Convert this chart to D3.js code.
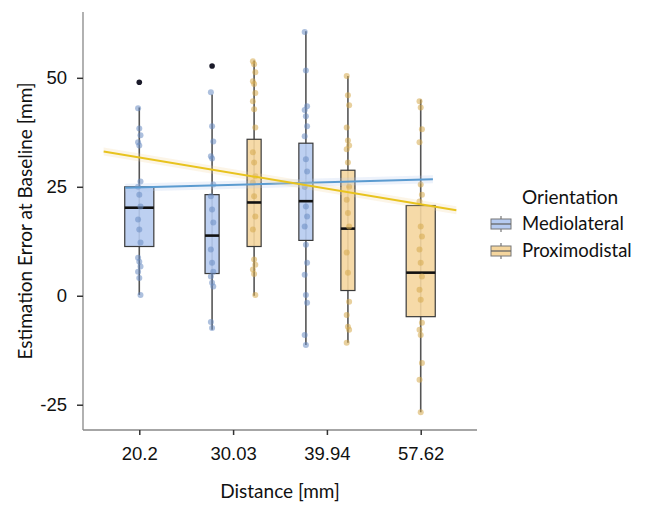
<!DOCTYPE html>
<html>
<head>
<meta charset="utf-8">
<script src="https://cdn.jsdelivr.net/npm/d3@7/dist/d3.min.js"></script>
<style>
  body { margin: 0; background: #fff; }
  .tick text { font-family: "Liberation Sans", Arial, sans-serif; font-size: 18.5px; fill: #111; }
  .axisTitle, .legendText { font-family: Lato, "Open Sans", sans-serif; fill: #111; }
</style>
</head>
<body>
<div id="chart"></div>
<script>
// categories and groups
var distances = ["20.2", "30.03", "39.94", "57.62"];
var orientations = ["Mediolateral", "Proximodistal"];

var groupDistance = ["20.2", "30.03", "30.03", "39.94", "39.94", "57.62"];
var groupOrientation = ["Mediolateral", "Mediolateral", "Proximodistal", "Mediolateral", "Proximodistal", "Proximodistal"];

// box statistics
var q1 = [11.3, 5.1, 11.3, 12.7, 1.2, -4.8];
var median = [20.2, 13.8, 21.4, 21.7, 15.4, 5.3];
var q3 = [25, 23.2, 35.9, 35, 28.8, 20.7];
var whiskerLow = [0.2, -7.8, 0, -11.3, -10.8, -26.7];
var whiskerHigh = [43.2, 46.2, 54, 60.7, 50.4, 45];
var outliers = [[49], [52.7], [], [], [], []];

// raw observations (jittered points)
var points = [
  [43, 38.4, 36.8, 35.2, 34.5, 26.2, 25, 23.2, 20.5, 17.5, 15.2, 12.2, 8.7, 7.8, 6.7, 5.5, 4.1, 0.2],
  [46.7, 38.9, 35.4, 32, 31.5, 25.5, 22.8, 19.8, 16.8, 10.6, 7.6, 5.5, 4.4, 3, 2.1, -6, -7.4],
  [53.8, 53.1, 51.3, 49.2, 48.6, 46.5, 44.6, 42.8, 38.6, 32.9, 30.6, 27.4, 26, 22.8, 18.2, 15.2, 8.3, 7.1, 6, 5, 0.2],
  [60.5, 51.7, 43.5, 42.6, 41.2, 38.9, 36.6, 31.3, 28.5, 25, 20.5, 18.2, 15.9, 11.7, 7.6, 4.8, 0.2, -1.6, -9, -11.3],
  [50.4, 46, 43.7, 38.6, 35.6, 34.5, 33.6, 30.6, 25, 22, 19, 15.9, 9.9, 5.3, -1.4, -4.4, -7.1, -7.8, -10.8],
  [44.6, 43.2, 38.2, 35.2, 25.5, 23.2, 21.6, 15.9, 13.6, 10.6, 7.6, 4.4, 1.4, -0.9, -6.2, -7.8, -9, -15.4, -19.3, -26.7]
];

// linear trend per orientation (position along category index, value)
var trendPos = { "Mediolateral": [-0.15, 3.13], "Proximodistal": [-0.38, 3.38] };
var trendVal = { "Mediolateral": [24.8, 26.7], "Proximodistal": [33.1, 19.6] };

var yTicks = [-25, 0, 25, 50];

var fillColor = { "Mediolateral": "#b6cbf0", "Proximodistal": "#f5d69e" };
var pointColor = { "Mediolateral": "#6a8cc2", "Proximodistal": "#d6a94c" };
var lineColor = { "Mediolateral": "#5b9bd0", "Proximodistal": "#e8c31e" };

var svgWidth = 648, svgHeight = 505;
var plot = { left: 83, right: 477, top: 12, bottom: 430 };

var svg = d3.select("#chart").append("svg")
  .attr("width", svgWidth)
  .attr("height", svgHeight);

var x = d3.scalePoint().domain(distances).range([plot.left, plot.right]).padding(0.6);
var step = x.step();
var xPos = d3.scaleLinear().domain([0, distances.length - 1])
  .range([x(distances[0]), x(distances[distances.length - 1])]);
var y = d3.scaleLinear().domain([-30.8, 65.1]).range([plot.bottom, plot.top]);

// dodge: shared categories get two narrow boxes, single ones stay centred
function slot(i) {
  var d = groupDistance[i];
  var n = groupDistance.filter(function(g) { return g === d; }).length;
  if (n === 1) return { dx: 0, w: step * 0.31 };
  var k = groupDistance.slice(0, i).filter(function(g) { return g === d; }).length;
  return { dx: (k === 0 ? -1 : 1) * step * 0.224, w: step * 0.15 };
}

var groups = groupDistance.map(function(d, i) {
  var s = slot(i);
  return { i: i, cx: x(d) + s.dx, w: s.w, o: groupOrientation[i] };
});

// axes
var xAxis = svg.append("g")
  .attr("transform", "translate(0," + plot.bottom + ")")
  .call(d3.axisBottom(x).tickSize(5).tickPadding(12));
xAxis.select(".domain").attr("d", "M" + plot.left + ",0H" + plot.right).attr("stroke", "#888").attr("stroke-width", 1.3);
xAxis.selectAll(".tick line").attr("stroke", "#333").attr("stroke-width", 1.5);

var yAxis = svg.append("g")
  .attr("transform", "translate(" + plot.left + ",0)")
  .call(d3.axisLeft(y).tickValues(yTicks).tickSize(6).tickPadding(10)
    .tickFormat(function(d) { return String(d); }));
yAxis.select(".domain").attr("d", "M0," + plot.top + "V" + plot.bottom).attr("stroke", "#888").attr("stroke-width", 1.3);
yAxis.selectAll(".tick line").attr("stroke", "#333").attr("stroke-width", 1.5);

// whiskers
var boxG = svg.append("g");
boxG.selectAll(".whisker").data(groups).enter().append("line")
  .attr("x1", function(g) { return g.cx; })
  .attr("x2", function(g) { return g.cx; })
  .attr("y1", function(g) { return y(whiskerLow[g.i]); })
  .attr("y2", function(g) { return y(whiskerHigh[g.i]); })
  .attr("stroke", "#555")
  .attr("stroke-width", 1.6);

// boxes
boxG.selectAll(".box").data(groups).enter().append("rect")
  .attr("x", function(g) { return g.cx - g.w / 2; })
  .attr("width", function(g) { return g.w; })
  .attr("y", function(g) { return y(q3[g.i]); })
  .attr("height", function(g) { return y(q1[g.i]) - y(q3[g.i]); })
  .attr("fill", function(g) { return fillColor[g.o]; })
  .attr("fill-opacity", 0.9)
  .attr("stroke", "#3a3a3a")
  .attr("stroke-width", 1.2);

boxG.selectAll(".median").data(groups).enter().append("line")
  .attr("x1", function(g) { return g.cx - g.w / 2; })
  .attr("x2", function(g) { return g.cx + g.w / 2; })
  .attr("y1", function(g) { return y(median[g.i]); })
  .attr("y2", function(g) { return y(median[g.i]); })
  .attr("stroke", "#111")
  .attr("stroke-width", 2.6);

// outliers
var outData = [];
groups.forEach(function(g) {
  outliers[g.i].forEach(function(v) { outData.push({ cx: g.cx, v: v }); });
});
boxG.selectAll(".outlier").data(outData).enter().append("circle")
  .attr("cx", function(d) { return d.cx; })
  .attr("cy", function(d) { return y(d.v); })
  .attr("r", 2.8)
  .attr("fill", "#1a1a2a");

// jittered points
var ptData = [];
groups.forEach(function(g) {
  points[g.i].forEach(function(v, j) {
    ptData.push({ cx: g.cx + ((j % 3) - 1) * 1.2, v: v, o: g.o });
  });
});
svg.append("g").selectAll("circle").data(ptData).enter().append("circle")
  .attr("cx", function(d) { return d.cx; })
  .attr("cy", function(d) { return y(d.v); })
  .attr("r", 3)
  .attr("fill", function(d) { return pointColor[d.o]; })
  .attr("opacity", 0.55);

// trend lines with faint ribbon
orientations.forEach(function(o) {
  var pts = trendPos[o].map(function(p, k) { return [xPos(p), y(trendVal[o][k])]; });
  svg.append("path")
    .datum(pts)
    .attr("d", d3.area().x(function(d) { return d[0]; })
      .y0(function(d) { return d[1] - 4; }).y1(function(d) { return d[1] + 4; }))
    .attr("fill", fillColor[o])
    .attr("opacity", 0.25);
  svg.append("path")
    .datum(pts)
    .attr("d", d3.line())
    .attr("stroke", lineColor[o])
    .attr("stroke-width", 2)
    .attr("fill", "none");
});

// axis titles
svg.append("text")
  .attr("class", "axisTitle")
  .attr("x", (plot.left + plot.right) / 2)
  .attr("y", 498)
  .attr("text-anchor", "middle")
  .style("font-size", "19px")
  .text("Distance [mm]");

svg.append("text")
  .attr("class", "axisTitle")
  .attr("transform", "translate(32," + (plot.top + plot.bottom) / 2 + ") rotate(-90)")
  .attr("text-anchor", "middle")
  .style("font-size", "19px")
  .text("Estimation Error at Baseline [mm]");

// legend
var legend = svg.append("g").attr("transform", "translate(490,0)");
legend.append("text")
  .attr("class", "legendText")
  .attr("x", 32).attr("y", 204)
  .style("font-size", "19px")
  .text("Orientation");

orientations.forEach(function(o, k) {
  var cy = 224 + k * 27;
  var item = legend.append("g");
  item.append("line")
    .attr("x1", 11).attr("x2", 11).attr("y1", cy - 8).attr("y2", cy + 8)
    .attr("stroke", "#777").attr("stroke-width", 1.2);
  item.append("rect")
    .attr("x", 1).attr("y", cy - 5).attr("width", 20).attr("height", 10)
    .attr("fill", fillColor[o]).attr("stroke", "#777").attr("stroke-width", 1);
  item.append("line")
    .attr("x1", 1).attr("x2", 21).attr("y1", cy).attr("y2", cy)
    .attr("stroke", "#666").attr("stroke-width", 1.3);
  item.append("text")
    .attr("class", "legendText")
    .attr("x", 32).attr("y", cy + 6)
    .style("font-size", "18.5px")
    .text(o);
});
</script>
</body>
</html>
